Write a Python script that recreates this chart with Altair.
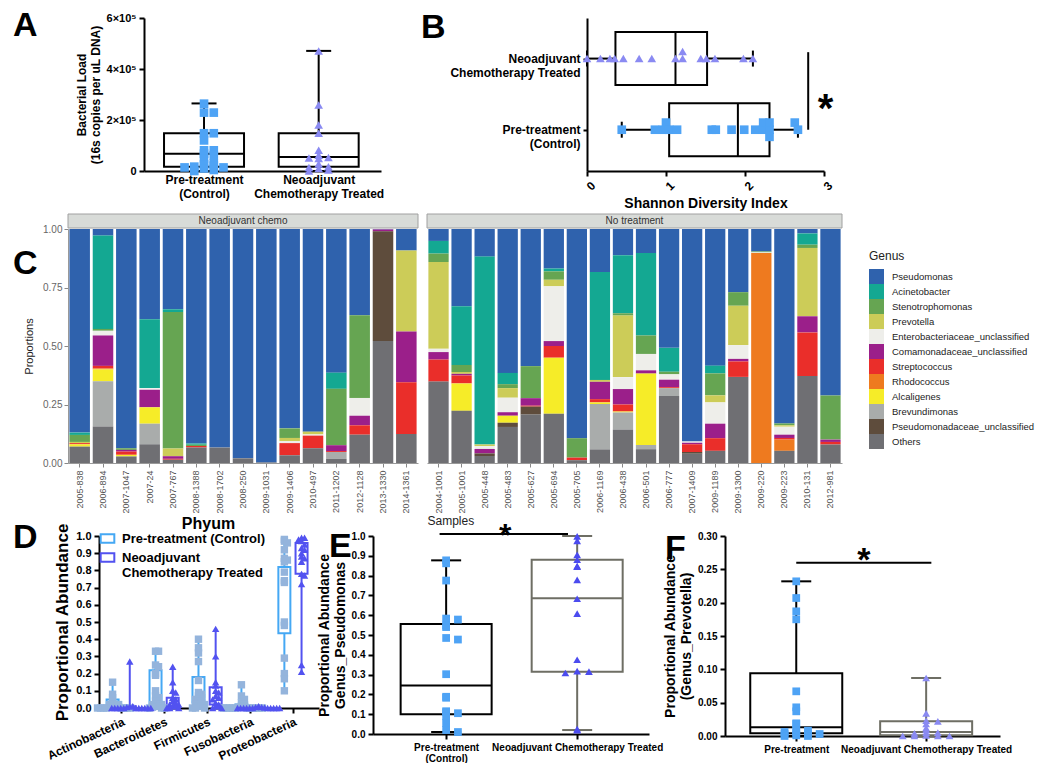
import altair as alt
import numpy as np
import pandas as pd

FONT = "Liberation Sans"

# ---------------- Panel A: bacterial load ----------------
A_groups = ["Pre-treatment (Control)", "Neoadjuvant Chemotherapy Treated"]
A_min = [0, 0]
A_q1 = [17000, 17000]
A_median = [68000, 55000]
A_q3 = [148000, 148000]
A_max = [265000, 471000]
A_control = [264000, 229000, 229000, 148000, 148000, 120000, 81000, 81000, 68000, 62000,
             46000, 30000, 26000, 21000, 17000, 14000, 14000, 10000, 4000, 0]
A_treated = [471000, 259000, 180000, 148000, 81000, 62000, 53000, 51000, 49000, 27000,
             17000, 14000, 10000, 4000, 0]

# ---------------- Panel B: Shannon diversity ----------------
B_groups = ["Pre-treatment (Control)", "Neoadjuvant Chemotherapy Treated"]
B_min = [0.44, 0.0]
B_q1 = [1.04, 0.36]
B_median = [1.91, 1.12]
B_q3 = [2.31, 1.52]
B_max = [2.67, 2.10]
B_control = [0.44, 0.86, 0.96, 1.0, 1.04, 1.14, 1.58, 1.63, 1.83, 1.99, 2.13, 2.23, 2.23,
             2.31, 2.31, 2.31, 2.63, 2.67]
B_treated = [0.0, 0.17, 0.29, 0.35, 0.46, 0.66, 0.82, 1.12, 1.21, 1.21, 1.44, 1.51, 1.62,
             1.98, 2.10]

# ---------------- Panel C: genus composition ----------------
samples_chemo = ["2005-838", "2006-894", "2007-1047", "2007-24", "2007-767", "2008-1388",
                 "2008-1702", "2008-250", "2009-1031", "2009-1406", "2010-497", "2011-1202",
                 "2012-1128", "2013-1330", "2014-1361"]
samples_none = ["2004-1001", "2005-1001", "2005-448", "2005-483", "2005-627", "2005-694",
                "2005-705", "2006-1169", "2006-438", "2006-501", "2006-777", "2007-1409",
                "2009-1189", "2009-1300", "2009-220", "2009-223", "2010-131", "2012-981"]
genus_names = ["Pseudomonas", "Acinetobacter", "Stenotrophomonas", "Prevotella",
               "Enterobacteriaceae_unclassified", "Comamonadaceae_unclassified",
               "Streptococcus", "Rhodococcus", "Alcaligenes", "Brevundimonas",
               "Pseudomonadaceae_unclassified", "Others"]
genus_colors = ["#2f62ad", "#14a892", "#66a552", "#cccc58", "#eeeeea", "#9b1f8a",
                "#ea2e2a", "#ee7a1f", "#f6ec28", "#a9acab", "#5e4c3c", "#6f6f73"]
# values: 15 chemo samples followed by 18 untreated samples
pseudomonas = [0.870, 0.028, 0.937, 0.386, 0.343, 0.917, 0.934, 0.980, 0.998, 0.852, 0.866,
               0.614, 0.369, 0.002, 0.092,
               0.051, 0.330, 0.118, 0.615, 0.586, 0.169, 0.894, 0.184, 0.112, 0.103, 0.508,
               0.908, 0.584, 0.270, 0.096, 0.831, 0.019, 0.712]
acinetobacter = [0.010, 0.399, 0, 0.294, 0.012, 0.005, 0, 0, 0, 0, 0, 0.069, 0, 0, 0,
                 0.054, 0.251, 0.803, 0.048, 0, 0.012, 0, 0.461, 0.248, 0.352, 0.102, 0,
                 0.033, 0, 0, 0, 0.048, 0]
stenotrophomonas = [0.030, 0.008, 0.007, 0, 0.583, 0.005, 0, 0, 0, 0.041, 0, 0.241, 0.353,
                    0, 0,
                    0.036, 0.030, 0, 0.017, 0.137, 0.036, 0.083, 0, 0.010, 0.079, 0.011, 0,
                    0.094, 0.058, 0.004, 0.008, 0.014, 0.188]
prevotella = [0.005, 0, 0, 0, 0.033, 0, 0, 0, 0, 0.014, 0.012, 0, 0, 0, 0.346,
              0.371, 0.008, 0.007, 0.041, 0, 0.028, 0, 0.008, 0.263, 0, 0, 0, 0.030, 0.168,
              0, 0.006, 0.292, 0]
enterobacteriaceae = [0, 0.020, 0, 0.007, 0, 0, 0, 0, 0, 0.008, 0.005, 0, 0.076, 0, 0,
                      0.014, 0, 0.012, 0.062, 0, 0.234, 0, 0, 0.051, 0.070, 0.023, 0.005,
                      0.091, 0.059, 0.003, 0.034, 0, 0]
comamonadaceae = [0, 0.130, 0.007, 0.075, 0.011, 0, 0, 0, 0, 0, 0, 0.025, 0.041, 0.008,
                  0.217,
                  0.032, 0.007, 0.019, 0.015, 0.032, 0.021, 0, 0.074, 0.066, 0.014, 0.032,
                  0.007, 0.062, 0.011, 0, 0.014, 0.069, 0.010]
streptococcus = [0.005, 0.011, 0.014, 0, 0.004, 0.007, 0, 0, 0, 0.052, 0.054, 0.004, 0.040,
                 0, 0.221,
                 0.094, 0.034, 0, 0, 0.004, 0.050, 0.011, 0.014, 0.030, 0, 0.004, 0.033,
                 0.054, 0.066, 0, 0.007, 0.186, 0.011]
rhodococcus = [0, 0.004, 0, 0, 0, 0, 0, 0, 0, 0, 0, 0, 0, 0, 0,
               0, 0, 0, 0, 0, 0, 0, 0, 0, 0, 0, 0, 0, 0, 0.897, 0.048, 0, 0]
alcaligenes = [0.010, 0.051, 0.007, 0.070, 0, 0, 0, 0, 0, 0, 0, 0, 0, 0, 0,
               0, 0.117, 0, 0.030, 0, 0.240, 0, 0.007, 0.004, 0.305, 0, 0, 0, 0, 0, 0, 0, 0]
brevundimonas = [0, 0.193, 0, 0.088, 0, 0, 0, 0, 0, 0, 0, 0.029, 0, 0, 0,
                 0, 0, 0, 0, 0, 0, 0, 0.194, 0.073, 0.018, 0.034, 0, 0, 0, 0, 0, 0, 0]
pseudomonadaceae = [0, 0, 0, 0, 0, 0, 0, 0, 0, 0, 0, 0, 0, 0.469, 0,
                    0, 0, 0.011, 0.018, 0.034, 0, 0, 0, 0, 0, 0, 0.007, 0, 0, 0, 0, 0, 0]
others = [0.070, 0.156, 0.028, 0.080, 0.014, 0.066, 0.066, 0.020, 0.002, 0.033, 0.063,
          0.018, 0.121, 0.521, 0.124,
          0.348, 0.223, 0.030, 0.154, 0.207, 0.210, 0.012, 0.058, 0.143, 0.059, 0.286,
          0.040, 0.052, 0.368, 0.0, 0.052, 0.372, 0.079]

# ---------------- Panel D: phylum abundance ----------------
phyla = ["Actinobacteria", "Bacteroidetes", "Firmicutes", "Fusobacteria", "Proteobacteria"]
D_ctrl_min = [0, 0, 0, 0, 0.10]
D_ctrl_q1 = [0.0, 0.015, 0.03, 0.0, 0.435]
D_ctrl_med = [0.01, 0.07, 0.08, 0.005, 0.75]
D_ctrl_q3 = [0.05, 0.22, 0.18, 0.02, 0.82]
D_ctrl_max = [0.15, 0.33, 0.40, 0.135, 0.98]
D_trt_min = [0, 0, 0, 0, 0.21]
D_trt_q1 = [0, 0, 0.02, 0, 0.78]
D_trt_med = [0, 0.02, 0.06, 0.0, 0.90]
D_trt_q3 = [0.01, 0.06, 0.12, 0.003, 0.96]
D_trt_max = [0.27, 0.24, 0.46, 0.01, 0.99]
D_ctrl_actino = [0.15, 0.08, 0.06, 0.03, 0.02, 0.02, 0.01, 0.01, 0.01, 0.005, 0, 0, 0, 0,
                 0, 0, 0, 0, 0.02]
D_ctrl_bactero = [0.33, 0.33, 0.25, 0.24, 0.20, 0.19, 0.10, 0.07, 0.06, 0.04, 0.02, 0.02,
                  0.02, 0.01, 0.01, 0.005, 0, 0, 0]
D_ctrl_firmi = [0.40, 0.35, 0.32, 0.27, 0.16, 0.09, 0.08, 0.07, 0.06, 0.05, 0.04, 0.03,
                0.02, 0.02, 0.01, 0.01, 0, 0, 0]
D_ctrl_fuso = [0.135, 0.07, 0.05, 0.03, 0.02, 0.01, 0.01, 0.005, 0, 0, 0, 0, 0, 0, 0, 0,
               0, 0, 0]
D_ctrl_proteo = [0.98, 0.97, 0.96, 0.92, 0.87, 0.86, 0.85, 0.79, 0.74, 0.73, 0.50, 0.48,
                 0.29, 0.20, 0.17, 0.10]
D_trt_actino = [0.27, 0.01, 0.01, 0.005, 0, 0, 0, 0, 0, 0, 0, 0, 0, 0, 0]
D_trt_bactero = [0.24, 0.15, 0.10, 0.09, 0.06, 0.05, 0.04, 0.03, 0.02, 0.02, 0.01, 0.01, 0,
                 0, 0]
D_trt_firmi = [0.46, 0.30, 0.15, 0.13, 0.10, 0.09, 0.07, 0.06, 0.05, 0.03, 0.02, 0.01,
               0.01, 0, 0]
D_trt_fuso = [0.01, 0.005, 0.005, 0.003, 0, 0, 0, 0, 0, 0, 0, 0, 0, 0, 0]
D_trt_proteo = [0.99, 0.99, 0.98, 0.97, 0.95, 0.93, 0.92, 0.90, 0.88, 0.87, 0.85, 0.78,
                0.77, 0.72, 0.25, 0.21]

# ---------------- Panel E: Genus Pseudomonas ----------------
E_min = [0.01, 0.02]
E_q1 = [0.10, 0.315]
E_median = [0.245, 0.685]
E_q3 = [0.555, 0.88]
E_max = [0.877, 1.0]
E_control = [0.877, 0.862, 0.775, 0.583, 0.578, 0.548, 0.54, 0.485, 0.477, 0.302, 0.188,
             0.183, 0.115, 0.11, 0.105, 0.09, 0.055, 0.02, 0.01]
E_treated = [0.998, 0.975, 0.905, 0.88, 0.848, 0.845, 0.778, 0.683, 0.608, 0.375, 0.318,
             0.315, 0.308, 0.025, 0.02]

# ---------------- Panel F: Genus Prevotella ----------------
F_min = [0.0, 0.0]
F_q1 = [0.004, 0.001]
F_median = [0.013, 0.006]
F_q3 = [0.094, 0.022]
F_max = [0.232, 0.087]
F_control = [0.232, 0.207, 0.187, 0.175, 0.067, 0.043, 0.037, 0.019, 0.018, 0.009, 0.008,
             0.006, 0.005, 0.004, 0.003, 0.003, 0.001, 0.0, 0.0]
F_treated = [0.087, 0.034, 0.023, 0.022, 0.018, 0.012, 0.009, 0.005, 0.005, 0.004, 0.001,
             0.0, 0.0, 0.0, 0.0]

# ---------------- colours ----------------
CTRL_PT = "#4ea3f5"
TRT_PT = "#8a8af2"
TRT_PT_E = "#4b4bef"
D_CTRL_BOX = "#45a8f4"
D_TRT_BOX = "#5252f0"
D_CTRL_PT = "#94b4dc"
GRAY_BOX = "#6e6e64"

INDEP = dict(color="independent", stroke="independent", fill="independent",
             shape="independent")


def swarm(values, binw, step):
    """Simple beeswarm offsets: points in the same value bin spread sideways."""
    vals = np.asarray(values, dtype=float)
    order = np.argsort(-vals, kind="stable")
    offs = np.zeros(len(vals))
    counts = {}
    for i in order:
        b = int(round(vals[i] / binw))
        k = counts.get(b, 0)
        counts[b] = k + 1
        m = (k + 1) // 2
        sign = 1 if k % 2 == 1 else -1
        offs[i] = sign * m * step
    return offs


def prism_axis(**kw):
    base = dict(domainColor="black", domainWidth=2, tickColor="black", tickWidth=2,
                tickSize=5, labelFontWeight="bold", labelColor="black", labelFontSize=11,
                titleFontWeight="bold", titleColor="black", titleFontSize=13, grid=False,
                labelPadding=3, labelLimit=400, labelOverlap=False)
    base.update(kw)
    return alt.Axis(**base)


def letter(ch, x, y):
    return alt.Chart(pd.DataFrame({"t": [ch]})).mark_text(
        fontSize=34, fontWeight="bold", align="left", baseline="alphabetic",
        color="black").encode(text="t:N", x=alt.value(x), y=alt.value(y))


def spacer():
    return alt.Chart(pd.DataFrame({"a": [0]})).mark_point(opacity=0, size=0).encode(
        x=alt.value(0), y=alt.value(0)).properties(width=1, height=1)


def vpanel(st, pts, xq, yq, box_w, cap_w, pt_size, cap=True):
    """Vertical box-and-whisker layers + points. xq / yq build encodings for a field."""
    base = alt.Chart(st)
    col = alt.Color("col:N", scale=None)
    layers = [
        base.mark_bar(fillOpacity=0, strokeWidth=2, size=box_w).encode(
            x=xq("pos"), y=yq("q1"), y2="q3", stroke=alt.Stroke("col:N", scale=None)),
        base.mark_rule(strokeWidth=2).encode(x=xq("pos"), y=yq("lo"), y2="q1", color=col),
        base.mark_rule(strokeWidth=2).encode(x=xq("pos"), y=yq("q3"), y2="hi", color=col),
        base.mark_tick(orient="horizontal", size=box_w, thickness=2, opacity=1).encode(
            x=xq("pos"), y=yq("med"), color=col),
    ]
    if cap:
        layers += [
            base.mark_tick(orient="horizontal", size=cap_w, thickness=2, opacity=1).encode(
                x=xq("pos"), y=yq("lo"), color=col),
            base.mark_tick(orient="horizontal", size=cap_w, thickness=2, opacity=1).encode(
                x=xq("pos"), y=yq("hi"), color=col),
        ]
    layers.append(
        alt.Chart(pts).mark_point(filled=True, size=pt_size, opacity=1).encode(
            x=xq("x"), y=yq("v"), shape=alt.Shape("shape:N", scale=None),
            fill=alt.Fill("col:N", scale=None))
    )
    return layers


def pts_frame(groups_vals, positions, shapes, colors, binw, step):
    rows = []
    for vals, p, s, c in zip(groups_vals, positions, shapes, colors):
        offs = swarm(vals, binw, step)
        for v, o in zip(vals, offs):
            rows.append({"x": p + o, "v": v, "shape": s, "col": c})
    return pd.DataFrame(rows)


def row(*charts, spacing):
    return alt.concat(*charts, columns=len(charts), align="none", spacing=spacing,
                      bounds="full").resolve_scale(**INDEP).resolve_legend(
        color="independent")


# ====================== Panel A ======================
A_st = pd.DataFrame({"pos": [0, 1], "lo": A_min, "q1": A_q1, "med": A_median, "q3": A_q3,
                     "hi": A_max, "col": ["black", "black"]})
A_pts = pts_frame([A_control, A_treated], [0, 1], ["square", "triangle-up"],
                  [CTRL_PT, TRT_PT], 20000, 0.085)
A_xaxis = prism_axis(values=[0, 1], labelFontSize=12, tickSize=0, labelLineHeight=14,
                     labelExpr="datum.value == 0 ? ['Pre-treatment', '(Control)'] : "
                               "['Neoadjuvant', 'Chemotherapy Treated']")
A_yaxis = prism_axis(values=[0, 200000, 400000, 600000],
                     labelExpr="datum.value == 0 ? '0' : format(datum.value / 100000, 'd') + '×10⁵'",
                     titleFontSize=12)


def A_x(f):
    return alt.X(f"{f}:Q", scale=alt.Scale(domain=[-0.48, 1.5], nice=False, zero=False),
                 axis=A_xaxis, title=None)


def A_y(f):
    return alt.Y(f"{f}:Q", scale=alt.Scale(domain=[0, 600000], nice=False), axis=A_yaxis,
                 title=["Bacterial Load", "(16s copies per uL DNA)"])


A_chart = alt.layer(*vpanel(A_st, A_pts, A_x, A_y, 80, 25, 75),
                    letter("A", -131, 18)).properties(width=237, height=153)

# ====================== Panel B ======================
B_st = pd.DataFrame({"pos": [0, 1], "lo": B_min, "q1": B_q1, "med": B_median, "q3": B_q3,
                     "hi": B_max, "col": ["black", "black"]})
B_pts = pts_frame([B_control, B_treated], [0, 1], ["square", "triangle-up"],
                  [CTRL_PT, TRT_PT], 0.06, 0.1)
B_yaxis = prism_axis(values=[0, 1], labelFontSize=12, tickSize=4, labelLineHeight=14,
                     labelAlign="right",
                     labelExpr="datum.value == 0 ? ['Pre-treatment', '(Control)'] : "
                               "['Neoadjuvant', 'Chemotherapy Treated']")
B_xaxis = prism_axis(values=[0, 1, 2, 3], labelAngle=-45, labelAlign="center",
                     labelBaseline="top", labelPadding=6, labelFontSize=12,
                     titleFontSize=14)


def B_x(f):
    return alt.X(f"{f}:Q", scale=alt.Scale(domain=[0, 3], nice=False), axis=B_xaxis,
                 title="Shannon Diversity Index")


def B_y(f):
    return alt.Y(f"{f}:Q", scale=alt.Scale(domain=[-0.51, 1.5], nice=False, zero=False),
                 axis=B_yaxis, title=None)


B_base = alt.Chart(B_st)
B_col = alt.Color("col:N", scale=None)
B_layers = [
    B_base.mark_bar(fillOpacity=0, strokeWidth=2, size=53, orient="horizontal").encode(
        y=B_y("pos"), x=B_x("q1"), x2="q3", stroke=alt.Stroke("col:N", scale=None)),
    B_base.mark_rule(strokeWidth=2).encode(y=B_y("pos"), x=B_x("lo"), x2="q1", color=B_col),
    B_base.mark_rule(strokeWidth=2).encode(y=B_y("pos"), x=B_x("q3"), x2="hi", color=B_col),
    B_base.mark_tick(orient="vertical", size=53, thickness=2, opacity=1).encode(
        y=B_y("pos"), x=B_x("med"), color=B_col),
    B_base.mark_tick(orient="vertical", size=16, thickness=2, opacity=1).encode(
        y=B_y("pos"), x=B_x("lo"), color=B_col),
    B_base.mark_tick(orient="vertical", size=16, thickness=2, opacity=1).encode(
        y=B_y("pos"), x=B_x("hi"), color=B_col),
    alt.Chart(B_pts).mark_point(filled=True, size=75, opacity=1).encode(
        x=B_x("v"), y=B_y("x"), shape=alt.Shape("shape:N", scale=None),
        fill=alt.Fill("col:N", scale=None)),
]
B_sig = pd.DataFrame({"x": [2.8], "y0": [0.0], "y1": [1.09], "sx": [3.02], "sy": [0.45],
                      "t": ["*"]})
B_layers += [
    alt.Chart(B_sig).mark_rule(strokeWidth=2, color="black").encode(
        x=B_x("x"), y=B_y("y0"), y2="y1"),
    alt.Chart(B_sig).mark_text(fontSize=40, fontWeight="bold", color="black",
                               baseline="middle", dy=12).encode(
        x=B_x("sx"), y=B_y("sy"), text="t:N"),
    letter("B", -166, 20),
]
B_chart = alt.layer(*B_layers).properties(width=237, height=153)

top_row = row(spacer(), row(A_chart, B_chart, spacing=37), spacing=0)

# ====================== Panel C ======================
genus_lists = [pseudomonas, acinetobacter, stenotrophomonas, prevotella, enterobacteriaceae,
               comamonadaceae, streptococcus, rhodococcus, alcaligenes, brevundimonas,
               pseudomonadaceae, others]
all_samples = samples_chemo + samples_none
rows = []
for gi, (g, vals) in enumerate(zip(genus_names, genus_lists)):
    for si, s in enumerate(all_samples):
        rows.append({"sample": s, "genus": g, "value": vals[si],
                     "ord": len(genus_names) - 1 - gi,
                     "panel": "Neoadjuvant chemo" if si < len(samples_chemo) else "No treatment"})
C_df = pd.DataFrame(rows)

C_color_scale = alt.Scale(domain=genus_names, range=genus_colors)


def C_panel(panel, samples, width, left):
    d = C_df[C_df["panel"] == panel]
    if left:
        xaxis = alt.Axis(labelAngle=-90, labelFontSize=9, labelColor="#555",
                         tickColor="#888", tickSize=4, domainColor="#999", labelPadding=3,
                         title="Phyum", titleFontSize=16, titleFontWeight="bold",
                         titleColor="black", titleX=140, titlePadding=2)
    else:
        xaxis = alt.Axis(labelAngle=-90, labelFontSize=9, labelColor="#555",
                         tickColor="#888", tickSize=4, domainColor="#999", labelPadding=3,
                         title="Samples", titleFontSize=12, titleFontWeight="normal",
                         titleColor="#222", titleAnchor="start", titlePadding=2)
    yaxis = (alt.Axis(values=[0, 0.25, 0.5, 0.75, 1.0], format=".2f", labelFontSize=10,
                      labelColor="#666", tickColor="#888", tickSize=4, domainColor="#999",
                      title="Proportions", titleFontSize=11, titleColor="#222",
                      titleFontWeight="normal", grid=False, titlePadding=8)
             if left else None)
    legend = None if left else alt.Legend(
        title="Genus", orient="none", legendX=width + 27, legendY=22, titleFontSize=12,
        titleFontWeight="normal", titleColor="#222", labelFontSize=9.5, labelColor="#222",
        symbolType="square", symbolSize=225, symbolStrokeWidth=0, rowPadding=0,
        labelOffset=8, titlePadding=6, labelLimit=200)
    bars = alt.Chart(d).mark_bar(clip=True).encode(
        x=alt.X("sample:N", sort=samples,
                scale=alt.Scale(paddingInner=0.12, paddingOuter=0.06), axis=xaxis),
        y=alt.Y("value:Q", stack="zero", scale=alt.Scale(domain=[0, 1], nice=False),
                axis=yaxis),
        color=alt.Color("genus:N", scale=C_color_scale, legend=legend),
        order=alt.Order("ord:Q", sort="ascending"),
    )
    strip_df = pd.DataFrame({"t": [panel]})
    strip = alt.Chart(strip_df).mark_rect(fill="#d8dbd8", stroke="#a0a0a0",
                                          strokeWidth=1).encode(
        x=alt.value(0), x2=alt.value(width), y=alt.value(-15), y2=alt.value(-1))
    strip_txt = alt.Chart(strip_df).mark_text(fontSize=10, color="#333").encode(
        text="t:N", x=alt.value(width / 2), y=alt.value(-8))
    layers = [bars, strip, strip_txt]
    if left:
        layers.append(letter("C", -55, 45))
    return alt.layer(*layers).properties(width=width, height=234)


C_row = row(spacer(),
            row(C_panel("Neoadjuvant chemo", samples_chemo, 350, True),
                C_panel("No treatment", samples_none, 415, False), spacing=7),
            spacing=0)

# ====================== Panel D ======================
D_pos_c = [i - 0.2 for i in range(len(phyla))]
D_pos_t = [i + 0.2 for i in range(len(phyla))]
grp_names = ["Pre-treatment (Control)", "Neoadjuvant Chemotherapy Treated"]
D_st = pd.DataFrame({
    "pos": D_pos_c + D_pos_t,
    "lo": D_ctrl_min + D_trt_min, "q1": D_ctrl_q1 + D_trt_q1, "med": D_ctrl_med + D_trt_med,
    "q3": D_ctrl_q3 + D_trt_q3, "hi": D_ctrl_max + D_trt_max,
    "grp": [grp_names[0]] * 5 + [grp_names[1]] * 5,
})
D_ctrl_lists = [D_ctrl_actino, D_ctrl_bactero, D_ctrl_firmi, D_ctrl_fuso, D_ctrl_proteo]
D_trt_lists = [D_trt_actino, D_trt_bactero, D_trt_firmi, D_trt_fuso, D_trt_proteo]
D_pts = pts_frame(D_ctrl_lists + D_trt_lists, D_pos_c + D_pos_t,
                  ["square"] * 5 + ["triangle-up"] * 5,
                  [D_CTRL_PT] * 5 + [D_TRT_BOX] * 5, 0.03, 0.07)

D_xaxis = prism_axis(values=[0, 1, 2, 3, 4], labelAngle=-25, labelAlign="right",
                     labelBaseline="top", labelFontSize=12, tickSize=5,
                     labelExpr="['Actinobacteria','Bacteroidetes','Firmicutes',"
                               "'Fusobacteria','Proteobacteria'][datum.value]")
D_yaxis = prism_axis(values=[round(0.1 * i, 1) for i in range(11)], format=".1f",
                     titleFontSize=17)


def D_x(f):
    return alt.X(f"{f}:Q", scale=alt.Scale(domain=[-0.4, 4.49], nice=False, zero=False),
                 axis=D_xaxis, title=None)


def D_y(f):
    return alt.Y(f"{f}:Q", scale=alt.Scale(domain=[0, 1], nice=False), axis=D_yaxis,
                 title="Proportional Abundance")


D_color_scale = alt.Scale(domain=grp_names, range=[D_CTRL_BOX, D_TRT_BOX])
D_base = alt.Chart(D_st)
D_layers = [
    D_base.mark_bar(filled=False, strokeWidth=2, size=12).encode(
        x=D_x("pos"), y=D_y("q1"), y2="q3",
        color=alt.Color("grp:N", scale=D_color_scale, legend=alt.Legend(
            title=None, orient="none", legendX=2, legendY=-4, labelFontSize=13,
            labelFontWeight="bold", labelColor="black",
            symbolType="M-1.3,-0.8L1.3,-0.8L1.3,0.8L-1.3,0.8Z", symbolSize=110,
            symbolStrokeWidth=2, rowPadding=2, labelOffset=8, labelLimit=300,
            labelExpr="datum.label == 'Neoadjuvant Chemotherapy Treated' ? "
                      "['Neoadjuvant', 'Chemotherapy Treated'] : datum.label"))),
    D_base.mark_rule(strokeWidth=2).encode(
        x=D_x("pos"), y=D_y("lo"), y2="q1", color=alt.Color("grp:N", scale=D_color_scale)),
    D_base.mark_rule(strokeWidth=2).encode(
        x=D_x("pos"), y=D_y("q3"), y2="hi", color=alt.Color("grp:N", scale=D_color_scale)),
    alt.Chart(D_pts).mark_point(filled=True, size=55, opacity=1).encode(
        x=D_x("x"), y=D_y("v"), shape=alt.Shape("shape:N", scale=None),
        fill=alt.Fill("col:N", scale=None)),
    letter("D", -86, 12),
]
D_chart = alt.layer(*D_layers).properties(width=220, height=172)

# ====================== Panel E ======================
E_st = pd.DataFrame({"pos": [0, 1], "lo": E_min, "q1": E_q1, "med": E_median, "q3": E_q3,
                     "hi": E_max, "col": ["black", GRAY_BOX]})
E_pts = pts_frame([E_control, E_treated], [0, 1], ["square", "triangle-up"],
                  [CTRL_PT, TRT_PT_E], 0.015, 0.09)
E_xaxis = prism_axis(values=[0, 1], labelFontSize=10, tickSize=5, labelLineHeight=11,
                     labelExpr="datum.value == 0 ? ['Pre-treatment', '(Control)'] : "
                               "'Neoadjuvant Chemotherapy Treated'")
E_yaxis = prism_axis(values=[round(0.1 * i, 1) for i in range(11)], format=".1f",
                     labelFontSize=10, titleFontSize=14)


def E_x(f):
    return alt.X(f"{f}:Q", scale=alt.Scale(domain=[-0.52, 1.51], nice=False, zero=False),
                 axis=E_xaxis, title=None)


def E_y(f):
    return alt.Y(f"{f}:Q", scale=alt.Scale(domain=[0, 1], nice=False), axis=E_yaxis,
                 title=["Proportional Abundance", "Genus_Pseudomonas"])


E_sig = pd.DataFrame({"x0": [-0.05], "x1": [0.93], "y": [1.01], "sx": [0.45],
                      "sy": [1.01], "t": ["*"]})
E_chart = alt.layer(
    *vpanel(E_st, E_pts, E_x, E_y, 91, 30, 60),
    alt.Chart(E_sig).mark_rule(strokeWidth=2, color="black").encode(
        x=E_x("x0"), x2="x1", y=E_y("y")),
    alt.Chart(E_sig).mark_text(fontSize=32, fontWeight="bold", color="black",
                               baseline="middle", dy=2).encode(
        x=E_x("sx"), y=E_y("sy"), text="t:N"),
    letter("E", -44, 21),
).properties(width=276, height=198)

# ====================== Panel F ======================
F_st = pd.DataFrame({"pos": [0, 1], "lo": F_min, "q1": F_q1, "med": F_median, "q3": F_q3,
                     "hi": F_max, "col": ["black", GRAY_BOX]})
F_pts = pts_frame([F_control, F_treated], [0, 1], ["square", "triangle-up"],
                  [CTRL_PT, TRT_PT], 0.004, 0.09)
F_xaxis = prism_axis(values=[0, 1], labelFontSize=10, tickSize=5,
                     labelExpr="datum.value == 0 ? 'Pre-treatment' : "
                               "'Neoadjuvant Chemotherapy Treated'")
F_yaxis = prism_axis(values=[0, 0.05, 0.10, 0.15, 0.20, 0.25, 0.30], format=".2f",
                     labelFontSize=10, titleFontSize=14)


def F_x(f):
    return alt.X(f"{f}:Q", scale=alt.Scale(domain=[-0.51, 1.53], nice=False, zero=False),
                 axis=F_xaxis, title=None)


def F_y(f):
    return alt.Y(f"{f}:Q", scale=alt.Scale(domain=[0, 0.30], nice=False), axis=F_yaxis,
                 title=["Proportional Abundance", "(Genus_Prevotella)"])


F_sig = pd.DataFrame({"x0": [0.0], "x1": [1.04], "y": [0.26], "sx": [0.52],
                      "sy": [0.2745], "t": ["*"]})
F_chart = alt.layer(
    *vpanel(F_st, F_pts, F_x, F_y, 92, 30, 60),
    alt.Chart(F_sig).mark_rule(strokeWidth=2, color="black").encode(
        x=F_x("x0"), x2="x1", y=F_y("y")),
    alt.Chart(F_sig).mark_text(fontSize=34, fontWeight="bold", color="black",
                               baseline="middle", dy=8).encode(
        x=F_x("sx"), y=F_y("sy"), text="t:N"),
    letter("F", -60, 23),
).properties(width=275, height=200)

bottom_row = row(spacer(), row(D_chart, row(E_chart, F_chart, spacing=0), spacing=-2),
                 spacing=0)

lower = alt.concat(C_row, bottom_row, columns=1, align="none", spacing=-12,
                   bounds="full").resolve_scale(**INDEP).resolve_legend(color="independent")

chart = alt.concat(top_row, lower, columns=1, align="none", spacing=2,
                   bounds="full").resolve_scale(**INDEP).resolve_legend(
    color="independent").properties(
    padding={"left": 4, "top": 1, "right": 0, "bottom": 0}
).configure(font=FONT).configure_view(stroke=None)

chart.save("out.html", embed_options={"renderer": "svg", "actions": False})
